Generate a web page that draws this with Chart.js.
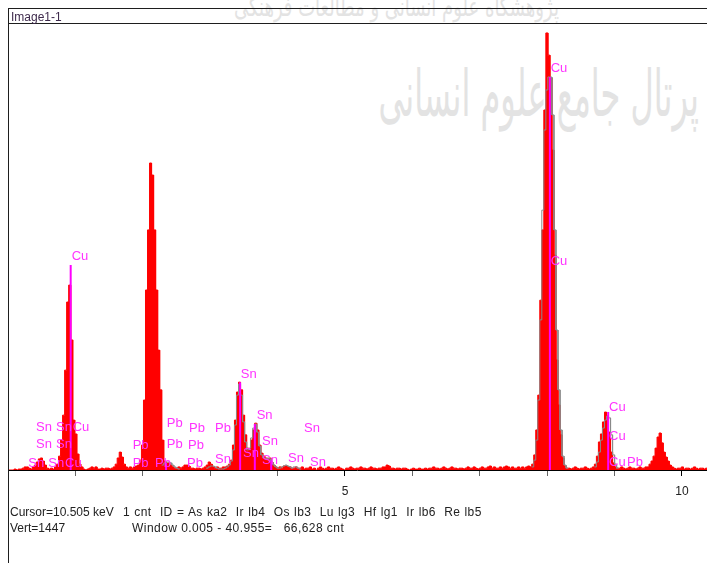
<!DOCTYPE html>
<html>
<head>
<meta charset="utf-8">
<script src="https://cdn.jsdelivr.net/npm/chart.js@4.4.1/dist/chart.umd.min.js"></script>
<style>
  body { margin: 0; background: #fff; }
  #wrap { position: relative; width: 707px; height: 563px; overflow: hidden; font-family: "Liberation Sans", Arial, sans-serif; }
  #chart { position: absolute; left: 0; top: 0; z-index: 1; }
  .wm { position: absolute; z-index: 0; font-family: "DejaVu Sans", sans-serif; color: #e3e3e3; white-space: nowrap; direction: rtl; transform-origin: right top; }
  .rule { position: absolute; z-index: 2; background: #1e1e1e; }
  .txt { position: absolute; z-index: 2; font-size: 12px; line-height: 14px; color: #222; white-space: pre; }
</style>
</head>
<body>
<div id="wrap">
  <div class="wm" style="right:148px; top:-10px; font-size:18px; transform:scale(1,1.5);">پژوهشگاه علوم انسانی و مطالعات فرهنگی</div>
  <div class="wm" style="right:8px; top:56px; font-size:32px; transform:scale(1,2);">پرتال جامع علوم انسانی</div>
  <canvas id="chart" width="707" height="563"></canvas>
  <div class="rule" style="left:8px; top:8px; width:699px; height:1px;"></div>
  <div class="rule" style="left:8px; top:23px; width:699px; height:1px;"></div>
  <div class="rule" style="left:8px; top:8px; width:1px; height:555px;"></div>
  <div class="txt" style="left:11px; top:10px; color:#3e2a4c;">Image1-1</div>
  <div class="txt" style="left:10px; top:505px;">Cursor=10.505 keV</div>
  <div class="txt" style="left:123px; top:505px; letter-spacing:0.35px; word-spacing:0.6px;">1 cnt  ID = As ka2  Ir lb4  Os lb3  Lu lg3  Hf lg1  Ir lb6  Re lb5</div>
  <div class="txt" style="left:10px; top:521px;">Vert=1447</div>
  <div class="txt" style="left:132px; top:521px; letter-spacing:0.45px;">Window 0.005 - 40.955=   66,628 cnt</div>
</div>
<script>
// spectrum channels, 0.03 keV wide, counts per channel
const chanWidthKeV = 0.03;
const specLow = [ // channels 0-80 (Cu L, Au M)
  0, 0, 0, 3, 0, 3, 3, 6, 10, 10,
  6, 3, 10, 16, 26, 36, 39, 29, 16, 6,
  3, 6, 3, 10, 19, 45, 97, 178, 324, 545,
  600, 422, 162, 117, 52, 19, 10,
  3, 0, 3, 6, 10, 6, 10, 3, 3, 6,
  3, 6, 6, 3, 6, 10, 19, 39, 58, 42,
  19, 10, 6, 10, 6, 10, 13, 16, 32,
  81, 227, 584, 779, 996, 957, 779, 584, 389, 260, 97, 29, 23, 23, 16
];
const specSn = [ // channels 81-143 (Pb M, Sn L)
  10, 6, 6, 10, 6, 10, 16, 16, 13, 6,
  6, 3, 6, 6, 3, 6, 10, 16, 26, 19,
  10, 6, 10, 6, 6, 10,
  10, 13, 19, 32, 81, 162, 253, 285, 260, 178,
  114, 71, 65, 97, 130, 152, 130, 81, 55, 45,
  39, 32, 39, 26, 16,
  10, 6, 10, 6, 13, 13, 10, 10, 6, 6, 10, 6
];
const specMid = [ // channels 144-257 (background)
  6, 10, 3, 6, 6, 10, 3, 6, 0, 6,
  10, 6, 3, 6, 10, 6, 6, 3, 6, 10,
  6, 3, 0, 6, 6, 10, 6, 3, 6, 6,
  10, 6, 6, 3, 6, 10, 6, 6, 3, 6,
  6, 10, 10, 16, 13, 6, 6, 3, 6, 6,
  3, 6, 6, 3, 0, 3, 6, 3, 3, 6,
  3, 3, 6, 3, 6, 6, 10, 6, 6, 3,
  6, 10, 6, 3, 6, 10, 6, 6, 3, 6,
  6, 3, 6, 10, 6, 6, 10, 6, 3, 6,
  10, 6, 6, 10, 13, 6, 10, 6, 6, 10,
  6, 10, 13, 10, 6, 10, 6, 6, 10, 6,
  10, 6, 10, 13
];
const specHigh = [ // channels 258-345 (Cu K)
  10, 19, 49, 130, 243, 551, 779, 1168, 1418, 1346, 1272, 1038, 697, 357, 211, 114, 39, 13, 6,
  6, 3, 6, 10, 6, 3, 6, 6, 10, 6, 3, 6,
  10, 19, 45, 91, 117, 156, 188, 175, 123, 58, 23, 10, 6,
  6, 10, 6, 3, 6, 10, 6, 6, 3, 6, 10, 6, 6, 10,
  10, 19, 29, 45, 71, 107, 120, 88, 58, 42, 29, 16, 10,
  6, 3, 6, 6, 10, 3, 6, 6, 3, 6, 10, 6, 3, 6, 6, 3, 6
];

// grey reference outline, by first channel
const fitAuStart = 76;
const fitAu = [16, 23, 26, 26, 23, 16, 10, 6, 3];
const fitSnStart = 98;
const fitSn = [6, 10, 13, 13, 10, 6, 3, 3, 3,
  6, 10, 16, 29, 65, 146, 243, 279, 243, 156,
  91, 65, 71, 104, 136, 149, 123, 78, 49, 39,
  36, 39, 36, 26, 16, 10, 6, 6, 10, 13,
  16, 13, 10, 6, 10, 10, 6, 3];
const fitCuKaStart = 259;
const fitCuKa = [10, 32, 97, 227, 487, 843, 1103, 1233, 1275, 1275, 1152, 779, 454, 260, 130, 45, 16, 6];
const fitCuKbStart = 290;
const fitCuKb = [10, 26, 58, 97, 136, 162, 175, 169, 114, 49, 19, 6];

// line markers (keV, top in cnt)
const markKeV = [0.93, 2.345, 3.444, 3.662, 3.905, 8.04, 8.905];
const markTop = [665, 23, 285, 149, 32, 1275, 188];

// element labels (keV, baseline in cnt)
const lblText = ['Cu', 'Sn', 'Sn', 'Cu', 'Sn', 'Sn', 'Sn', 'Sn', 'Cu',
  'Pb', 'Pb', 'Pb', 'Pb', 'Pb', 'Pb', 'Pb', 'Pb', 'Pb', 'Sn',
  'Sn', 'Sn', 'Sn', 'Sn', 'Sn', 'Sn', 'Sn', 'Sn',
  'Cu', 'Cu', 'Cu', 'Cu', 'Cu', 'Pb'];
const lblKeV = [0.945, 0.415, 0.712, 0.96, 0.415, 0.712, 0.301, 0.598, 0.846,
  1.85, 1.85, 2.355, 2.355, 2.181, 2.685, 2.671, 2.656, 3.071, 3.071,
  3.453, 3.69, 3.487, 3.769, 3.769, 4.154, 4.392, 4.481,
  8.052, 8.052, 8.917, 8.917, 8.917, 9.184];
const lblCnt = [681, 127, 127, 127, 71, 71, 10, 10, 10,
  68, 10, 139, 71, 10, 123, 68, 10, 123, 23,
  298, 166, 42, 81, 19, 26, 123, 13,
  1291, 665, 191, 97, 13, 13];

const xTicks = [5, 10];

// histogram outline: each channel spans its two edges
function channelSteps(start, counts) {
  const pts = [];
  counts.forEach((c, k) => {
    pts.push({ x: (start + k) * chanWidthKeV, y: c });
    pts.push({ x: (start + k + 1) * chanWidthKeV, y: c });
  });
  return pts;
}

const specCnt = specLow.concat(specSn, specMid, specHigh);
const specPts = channelSteps(0, specCnt);

const fitPts = [];
[[fitAuStart, fitAu], [fitSnStart, fitSn], [fitCuKaStart, fitCuKa], [fitCuKbStart, fitCuKb]].forEach(([s, arr]) => {
  fitPts.push(...channelSteps(s, arr));
  fitPts.push({ x: (s + arr.length) * chanWidthKeV, y: null });
});

const markPts = [];
markKeV.forEach((e, k) => {
  markPts.push({ x: e, y: 0 }, { x: e, y: markTop[k] }, { x: e, y: null });
});

const peakLabels = {
  id: 'peakLabels',
  afterDatasetsDraw(chart) {
    const { ctx, scales: { x, y } } = chart;
    ctx.save();
    ctx.font = '13px "Liberation Sans", Arial, sans-serif';
    ctx.fillStyle = '#ff33ff';
    ctx.textBaseline = 'alphabetic';
    lblText.forEach((t, k) => {
      ctx.fillText(t, x.getPixelForValue(lblKeV[k]), y.getPixelForValue(lblCnt[k]));
    });
    ctx.restore();
  }
};

new Chart(document.getElementById('chart'), {
  type: 'line',
  data: {
    datasets: [
      { data: markPts, borderColor: '#ff00ff', borderWidth: 2, pointRadius: 0, fill: false, spanGaps: false },
      { data: fitPts, borderColor: '#8a8a8a', borderWidth: 1, pointRadius: 0, fill: false, spanGaps: false },
      { data: specPts, borderColor: '#ff0000', backgroundColor: '#ff0000', borderWidth: 1, pointRadius: 0, fill: 'origin' }
    ]
  },
  options: {
    responsive: false,
    animation: false,
    devicePixelRatio: 1,
    layout: { padding: { left: 8, top: 24, right: 0, bottom: 0 } },
    plugins: { legend: { display: false }, tooltip: { enabled: false } },
    scales: {
      x: {
        type: 'linear',
        min: 0,
        max: 10.371,
        afterFit: s => { s.height = 93; },
        border: { display: true, color: '#000', width: 1 },
        grid: {
          drawOnChartArea: false,
          drawTicks: true,
          tickLength: 6,
          color: c => (c.tick && c.tick.value % 5 === 0) ? '#000' : '#666',
          lineWidth: c => (c.tick && c.tick.value === 0) ? 0 : 1
        },
        ticks: {
          stepSize: 1,
          autoSkip: false,
          includeBounds: false,
          maxRotation: 0,
          padding: 8,
          color: '#222',
          font: { family: '"Liberation Sans", Arial, sans-serif', size: 12 },
          callback: v => xTicks.includes(v) ? String(v) : ''
        }
      },
      y: { display: false, min: 0, max: 1447 }
    }
  },
  plugins: [peakLabels]
});
</script>
</body>
</html>
